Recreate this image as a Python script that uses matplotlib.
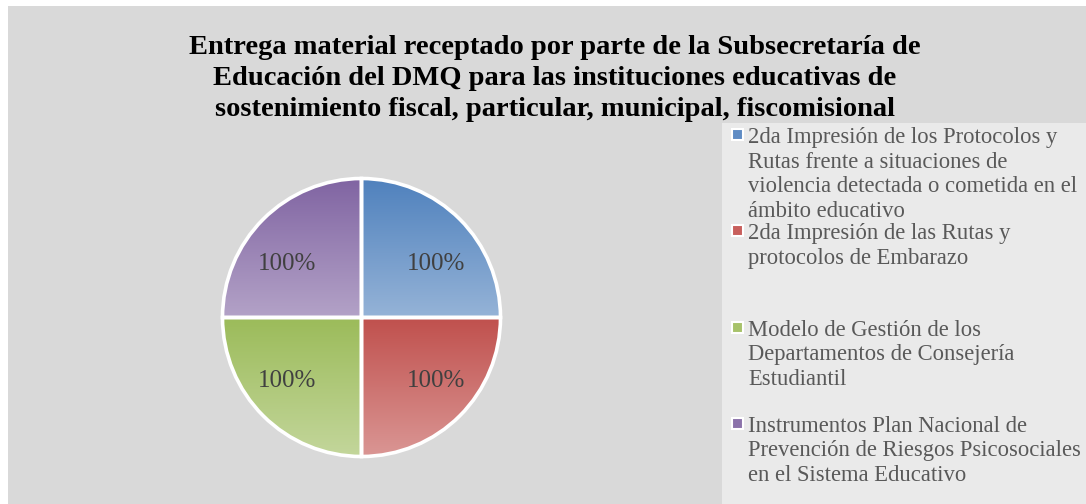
# encoding = utf-8
import numpy as np
import matplotlib.pyplot as plt
from matplotlib.patches import Rectangle
from matplotlib.colors import LinearSegmentedColormap

# datos
categorias = [
    "2da Impresión de los Protocolos y\nRutas frente a situaciones de\nviolencia detectada o cometida en el\námbito educativo",
    "2da Impresión de las Rutas y\nprotocolos de Embarazo",
    "Modelo de Gestión de los\nDepartamentos de Consejería\nEstudiantil",
    "Instrumentos Plan Nacional de\nPrevención de Riesgos Psicosociales\nen el Sistema Educativo",
]
valores = [100, 100, 100, 100]
etiquetas = ["100%", "100%", "100%", "100%"]
titulo = ("Entrega material receptado por parte de la Subsecretaría de\n"
          "Educación del DMQ para las instituciones educativas de\n"
          "sostenimiento fiscal, particular, municipal, fiscomisional")

# colores (arriba oscuro, abajo claro)
c_arriba = ["#4f81bd", "#c0504d", "#9bbb59", "#8064a2"]
c_abajo = ["#95b3d7", "#da9694", "#c3d69b", "#b3a2c7"]
c_medio = ["#5f8cc4", "#c85f5c", "#a7c26a", "#8b72aa"]

W, H = 1086, 504


def fx(px):
    return px / W


def fy(py):
    return 1 - py / H


def main():
    plt.rcParams["font.family"] = ["Liberation Serif", "DejaVu Serif"]
    fig = plt.figure(figsize=(W / 100, H / 100), dpi=100, facecolor="white")

    # fondo del grafico y del area de leyenda
    fig.patches.append(Rectangle((fx(8), 0), 1 - fx(8), fy(6), transform=fig.transFigure,
                                 facecolor="#d9d9d9", edgecolor="none", zorder=-2))
    fig.patches.append(Rectangle((fx(722), 0), 1 - fx(722), fy(123), transform=fig.transFigure,
                                 facecolor="#eaeaea", edgecolor="none", zorder=-1))
    # texto cortado arriba (como en la imagen original)
    fig.text(fx(0), fy(-4), "Ilustración No. 7", fontsize=11, va="center", ha="left", color="black")

    fig.text(fx(555), fy(78.5), titulo, fontsize=20.5, fontweight="bold", ha="center", va="center",
             multialignment="center", linespacing=1.3, color="black")

    # pastel
    r_px = 139
    cx, cy = 361.5, 317.5
    box = 160
    ax = fig.add_axes([fx(cx - box), fy(cy + box), 2 * box / W, 2 * box / H])
    ax.set_facecolor("none")
    wedges, _ = ax.pie(valores, startangle=90, counterclock=False, radius=1,
                       wedgeprops=dict(edgecolor="white", linewidth=2.6))
    grad = np.linspace(0, 1, 256).reshape(-1, 1)
    for w, top, bot, lab in zip(wedges, c_arriba, c_abajo, etiquetas):
        ext = w.get_path().get_extents()
        cmap = LinearSegmentedColormap.from_list("g", [bot, top])
        im = ax.imshow(grad, extent=[ext.x0, ext.x1, ext.y0, ext.y1], origin="lower",
                       cmap=cmap, aspect="auto", zorder=1)
        im.set_clip_path(w)
        w.set_facecolor("none")
        w.set_zorder(2)
        ang = np.deg2rad((w.theta1 + w.theta2) / 2)
        ty = 0.385 if np.sin(ang) > 0 else -0.46
        ax.text(0.535 * np.sign(np.cos(ang)), ty, lab,
                ha="center", va="center", fontsize=18, color="#404040", zorder=3)
    lim = box / r_px
    ax.set_xlim(-lim, lim)
    ax.set_ylim(-lim, lim)
    ax.set_aspect("equal")
    ax.axis("off")

    # leyenda
    for i, (cat, col) in enumerate(zip(categorias, c_medio)):
        y0 = 135 + 96.3 * i
        fig.patches.append(Rectangle((fx(732), fy(y0 + 5)), 11 / W, 11 / H, transform=fig.transFigure,
                                     facecolor=col, edgecolor="white", linewidth=1.5, zorder=2))
        fig.text(fx(748), fy(y0 - 8), cat, fontsize=16.3, color="#595959", ha="left", va="top",
                 linespacing=1.22)

    plt.savefig("out.png", dpi=100, facecolor="white")


if __name__ == '__main__':
    main()
